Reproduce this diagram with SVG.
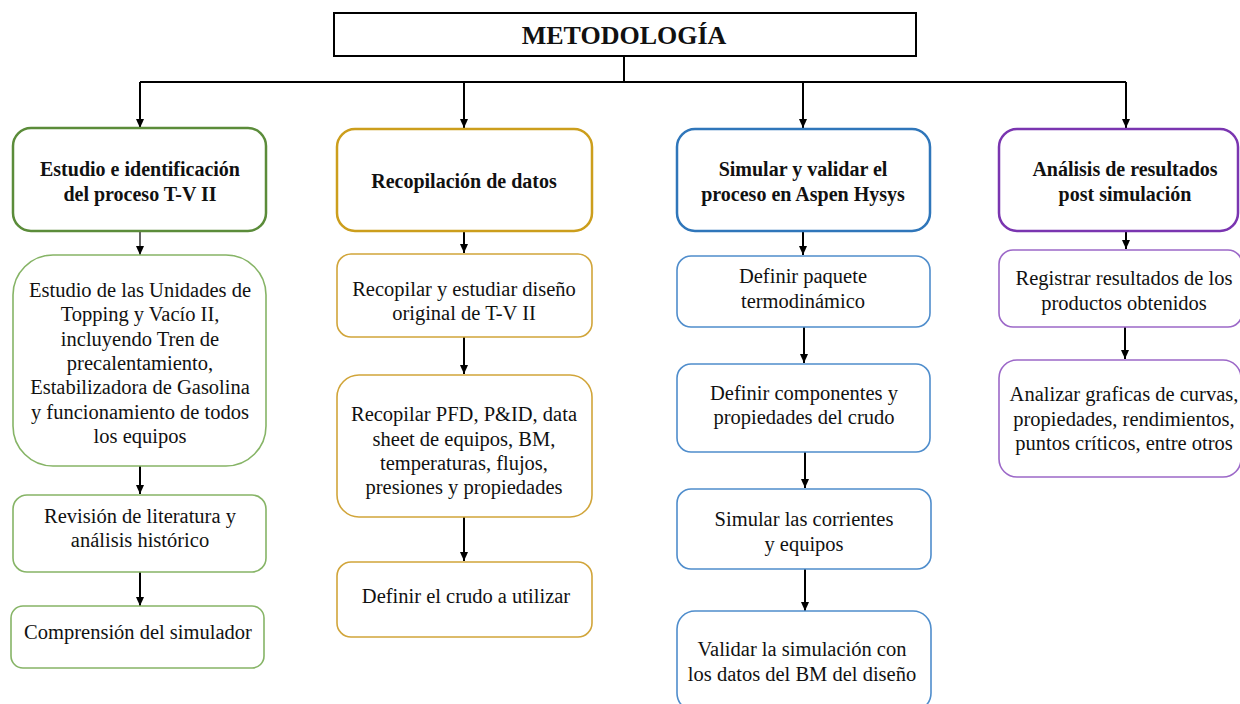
<svg xmlns="http://www.w3.org/2000/svg" width="1240" height="704" viewBox="0 0 1240 704">
<defs>
<marker id="ah" markerWidth="10" markerHeight="10" refX="9" refY="5" orient="auto" markerUnits="userSpaceOnUse">
<path d="M0,1 L9,5 L0,9 Z" fill="#000"/>
</marker>
<style>
text{font-family:"Liberation Serif","Times New Roman",serif;font-size:20.5px;fill:#111;text-anchor:middle}
.b{font-weight:bold;font-size:20px}
.t{font-size:26px;font-weight:bold}
rect{fill:#fff}
.g1{stroke:#5b8c3a;stroke-width:2.5}
.g2{stroke:#86b466;stroke-width:1.6}
.y1{stroke:#cc9e1c;stroke-width:2.5}
.y2{stroke:#d1a53a;stroke-width:1.6}
.bl1{stroke:#2f76ba;stroke-width:2.5}
.bl2{stroke:#4f8dcc;stroke-width:1.6}
.p1{stroke:#7a35b0;stroke-width:2.5}
.p2{stroke:#9c68c8;stroke-width:1.6}
.c{stroke:#000;stroke-width:2;fill:none}
.ca{stroke:#000;stroke-width:2;fill:none;marker-end:url(#ah)}
</style>
</defs>
<rect width="1240" height="704" fill="#fff"/>

<g id="connectors">
<path class="c" d="M624,56 V82 M140,82 H1126"/>
<path class="ca" d="M140,82 V128"/>
<path class="ca" d="M464,82 V128"/>
<path class="ca" d="M803,82 V128"/>
<path class="ca" d="M1126,82 V128"/>
<path class="ca" d="M140,231 V255" style="stroke-width:1.2"/>
<path class="ca" d="M140,466 V494"/>
<path class="ca" d="M140,572 V606"/>
<path class="ca" d="M464,231 V253"/>
<path class="ca" d="M464,337 V374"/>
<path class="ca" d="M464,517 V561"/>
<path class="ca" d="M803,231 V255"/>
<path class="ca" d="M804,327 V363"/>
<path class="ca" d="M805,452 V488"/>
<path class="ca" d="M805,569 V611"/>
<path class="ca" d="M1126,231 V249"/>
<path class="ca" d="M1125,327 V359"/>
</g>

<g id="title">
<rect x="334" y="13" width="582" height="43" fill="#fff" stroke="#000" stroke-width="2"/>
<text class="t" x="624" y="44">METODOLOGÍA</text>
</g>

<g id="c1h"><rect class="g1" x="13" y="128" width="253" height="103" rx="18"/>
<text class="b" x="140" y="176">Estudio e identificación</text>
<text class="b" x="140" y="201">del proceso T-V II</text></g>
<g id="c1b1"><rect class="g2" x="13" y="255" width="253" height="211" rx="40"/>
<text x="140" y="297">Estudio de las Unidades de</text>
<text x="140" y="321">Topping y Vacío II,</text>
<text x="140" y="346">incluyendo Tren de</text>
<text x="140" y="370">precalentamiento,</text>
<text x="140" y="394">Estabilizadora de Gasolina</text>
<text x="140" y="419">y funcionamiento de todos</text>
<text x="140" y="443">los equipos</text></g>
<g id="c1b2"><rect class="g2" x="13" y="495" width="253" height="77" rx="14"/>
<text x="140" y="523">Revisión de literatura y</text>
<text x="140" y="547">análisis histórico</text></g>
<g id="c1b3"><rect class="g2" x="11" y="606" width="253" height="62" rx="12"/>
<text x="138" y="639">Comprensión del simulador</text></g>

<g id="c2h"><rect class="y1" x="337" y="129" width="255" height="102" rx="18"/>
<text class="b" x="464" y="188">Recopilación de datos</text></g>
<g id="c2b1"><rect class="y2" x="337" y="254" width="255" height="83" rx="14"/>
<text x="464" y="296">Recopilar y estudiar diseño</text>
<text x="464" y="320">original de T-V II</text></g>
<g id="c2b2"><rect class="y2" x="337" y="375" width="255" height="142" rx="22"/>
<text x="464" y="421">Recopilar PFD, P&amp;ID, data</text>
<text x="464" y="446">sheet de equipos, BM,</text>
<text x="464" y="470">temperaturas, flujos,</text>
<text x="464" y="494">presiones y propiedades</text></g>
<g id="c2b3"><rect class="y2" x="337" y="562" width="255" height="75" rx="14"/>
<text x="466" y="603">Definir el crudo a utilizar</text></g>

<g id="c3h"><rect class="bl1" x="677" y="129" width="253" height="102" rx="18"/>
<text class="b" x="803" y="176">Simular y validar el</text>
<text class="b" x="803" y="201">proceso en Aspen Hysys</text></g>
<g id="c3b1"><rect class="bl2" x="677" y="256" width="253" height="71" rx="14"/>
<text x="803" y="283">Definir paquete</text>
<text x="803" y="308">termodinámico</text></g>
<g id="c3b2"><rect class="bl2" x="677" y="364" width="253" height="88" rx="14"/>
<text x="804" y="400">Definir componentes y</text>
<text x="804" y="424">propiedades del crudo</text></g>
<g id="c3b3"><rect class="bl2" x="677" y="489" width="254" height="80" rx="14"/>
<text x="804" y="526">Simular las corrientes</text>
<text x="804" y="551">y equipos</text></g>
<g id="c3b4"><rect class="bl2" x="677" y="611" width="254" height="100" rx="18"/>
<text x="802" y="656">Validar la simulación con</text>
<text x="802" y="681">los datos del BM del diseño</text></g>

<g id="c4h"><rect class="p1" x="999" y="129" width="239" height="102" rx="18"/>
<text class="b" x="1125" y="176">Análisis de resultados</text>
<text class="b" x="1125" y="201">post simulación</text></g>
<g id="c4b1"><rect class="p2" x="999" y="250" width="243" height="77" rx="14"/>
<text x="1124" y="285">Registrar resultados de los</text>
<text x="1124" y="310">productos obtenidos</text></g>
<g id="c4b2"><rect class="p2" x="999" y="360" width="242" height="117" rx="18"/>
<text x="1124" y="401">Analizar graficas de curvas,</text>
<text x="1124" y="426">propiedades, rendimientos,</text>
<text x="1124" y="450">puntos críticos, entre otros</text></g>
</svg>
